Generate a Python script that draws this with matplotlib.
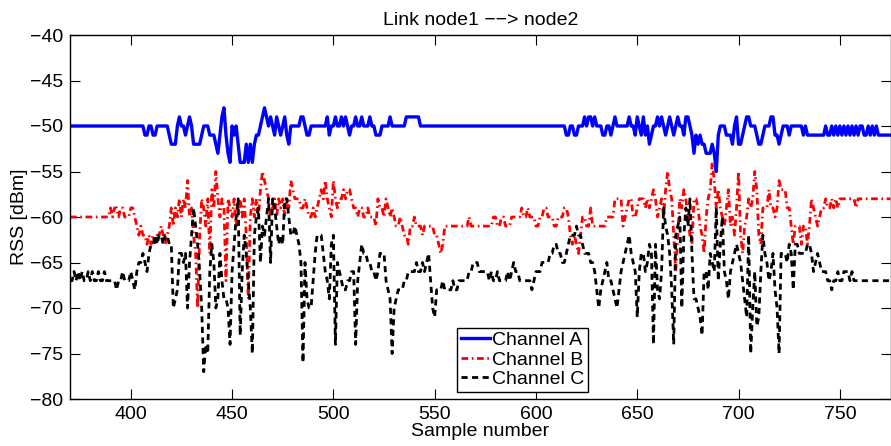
import numpy as np
import matplotlib
matplotlib.use('Agg')
import matplotlib.pyplot as plt

plt.rcParams['font.family'] = ['Liberation Sans', 'DejaVu Sans']
plt.rcParams['font.size'] = 14

# %% data, one value per sample (370..775)

samples = np.arange(370, 776)

chan_a = [
    -50, -50, -50, -50, -50, -50, -50, -50, -50, -50,   # 370
    -50, -50, -50, -50, -50, -50, -50, -50, -50, -50,   # 380
    -50, -50, -50, -50, -50, -50, -50, -50, -50, -50,   # 390
    -50, -50, -50, -50, -50, -50, -50, -51, -51, -50,   # 400
    -50, -51, -51, -50, -50, -50, -50, -50, -50, -51,   # 410
    -52, -52, -52, -50, -49, -50, -50, -51, -50, -49,   # 420
    -50, -52, -52, -52, -52, -51, -50, -50, -50, -51,   # 430
    -51, -51, -52, -53, -51, -49, -48, -51, -53, -54,   # 440
    -50, -51, -50, -52, -54, -54, -54, -52, -54, -52,   # 450
    -54, -52, -51, -51, -50, -49, -48, -49, -50, -49,   # 460
    -50, -51, -49, -50, -51, -50, -49, -51, -52, -50,   # 470
    -50, -50, -50, -50, -49, -49, -50, -51, -51, -50,   # 480
    -50, -50, -50, -50, -50, -50, -50, -49, -51, -50,   # 490
    -50, -49, -50, -50, -49, -50, -49, -50, -51, -50,   # 500
    -50, -49, -50, -50, -49, -50, -50, -50, -49, -50,   # 510
    -50, -51, -51, -51, -50, -50, -50, -50, -49, -50,   # 520
    -50, -50, -50, -50, -50, -50, -49, -49, -49, -49,   # 530
    -49, -49, -49, -50, -50, -50, -50, -50, -50, -50,   # 540
    -50, -50, -50, -50, -50, -50, -50, -50, -50, -50,   # 550
    -50, -50, -50, -50, -50, -50, -50, -50, -50, -50,   # 560
    -50, -50, -50, -50, -50, -50, -50, -50, -50, -50,   # 570
    -50, -50, -50, -50, -50, -50, -50, -50, -50, -50,   # 580
    -50, -50, -50, -50, -50, -50, -50, -50, -50, -50,   # 590
    -50, -50, -50, -50, -50, -50, -50, -50, -50, -50,   # 600
    -50, -50, -50, -50, -50, -51, -51, -50, -50, -51,   # 610
    -51, -50, -50, -50, -49, -50, -49, -49, -50, -49,   # 620
    -50, -50, -50, -51, -51, -50, -50, -51, -50, -49,   # 630
    -50, -50, -50, -50, -50, -50, -49, -50, -50, -51,   # 640
    -49, -50, -51, -49, -51, -50, -52, -51, -50, -50,   # 650
    -49, -50, -49, -50, -51, -50, -49, -50, -51, -50,   # 660
    -49, -50, -50, -51, -49, -49, -50, -51, -53, -51,   # 670
    -52, -51, -52, -52, -53, -53, -53, -52, -53, -55,   # 680
    -51, -50, -50, -50, -51, -51, -51, -52, -50, -49,   # 690
    -52, -52, -51, -50, -49, -49, -50, -50, -50, -51,   # 700
    -52, -52, -51, -50, -50, -50, -49, -49, -51, -51,   # 710
    -52, -51, -50, -50, -50, -51, -50, -50, -50, -50,   # 720
    -50, -50, -51, -50, -51, -51, -51, -51, -51, -51,   # 730
    -51, -51, -51, -50, -51, -51, -50, -51, -50, -51,   # 740
    -50, -51, -50, -51, -50, -51, -50, -51, -50, -51,   # 750
    -50, -50, -51, -51, -50, -51, -50, -51, -50, -51,   # 760
    -51, -51, -51, -51, -51, -51,                       # 770
]

chan_b = [
    -60, -60, -60, -60, -60, -60, -60, -60, -60, -60,   # 370
    -60, -60, -60, -60, -60, -60, -60, -60, -60, -60,   # 380
    -59, -60, -59, -59, -60, -59, -59, -60, -60, -60,   # 390
    -59, -59, -60, -61, -62, -61, -62, -62, -63, -62,   # 400
    -63, -62, -63, -62, -62, -61, -62, -63, -62, -61,   # 410
    -59, -61, -59, -60, -58, -60, -58, -59, -56, -60,   # 420
    -59, -62, -64, -70, -62, -58, -59, -61, -58, -64,   # 430
    -57, -59, -55, -58, -60, -58, -59, -67, -58, -59,   # 440
    -60, -58, -61, -59, -58, -60, -58, -62, -69, -60,   # 450
    -58, -60, -58, -60, -57, -55, -56, -57, -58, -60,   # 460
    -59, -58, -60, -58, -59, -58, -60, -58, -59, -56,   # 470
    -57, -58, -58, -58, -59, -59, -58, -59, -60, -60,   # 480
    -59, -60, -59, -58, -57, -58, -56, -58, -59, -60,   # 490
    -56, -58, -59, -58, -58, -57, -58, -57, -57, -58,   # 500
    -59, -59, -60, -59, -59, -60, -60, -59, -60, -60,   # 510
    -60, -61, -58, -59, -59, -60, -58, -59, -60, -59,   # 520
    -60, -61, -61, -60, -61, -62, -62, -63, -61, -61,   # 530
    -60, -61, -61, -61, -62, -61, -61, -61, -61, -61,   # 540
    -62, -62, -63, -64, -63, -61, -61, -61, -61, -61,   # 550
    -61, -61, -61, -61, -61, -61, -61, -60, -61, -61,   # 560
    -61, -61, -61, -61, -61, -61, -61, -61, -61, -60,   # 570
    -60, -61, -61, -60, -60, -61, -61, -61, -60, -60,   # 580
    -60, -60, -60, -59, -60, -60, -59, -60, -60, -60,   # 590
    -61, -61, -60, -60, -59, -59, -60, -60, -60, -61,   # 600
    -61, -60, -60, -60, -59, -59, -60, -62, -63, -62,   # 610
    -63, -64, -62, -60, -60, -61, -61, -59, -61, -61,   # 620
    -61, -61, -61, -61, -61, -60, -60, -60, -60, -58,   # 630
    -58, -58, -58, -61, -60, -59, -58, -58, -60, -60,   # 640
    -59, -58, -58, -58, -59, -58, -59, -58, -57, -58,   # 650
    -60, -59, -58, -60, -57, -55, -57, -58, -62, -66,   # 660
    -62, -58, -59, -57, -58, -60, -62, -63, -58, -58,   # 670
    -59, -61, -62, -64, -60, -58, -57, -54, -56, -59,   # 680
    -57, -59, -60, -61, -59, -57, -61, -60, -62, -59,   # 690
    -55, -62, -64, -61, -60, -58, -59, -58, -55, -57,   # 700
    -62, -63, -59, -59, -59, -57, -59, -59, -60, -59,   # 710
    -56, -57, -57, -57, -59, -59, -61, -63, -61, -61,   # 720
    -61, -63, -61, -61, -63, -61, -58, -59, -60, -61,   # 730
    -60, -59, -59, -58, -59, -59, -58, -59, -58, -59,   # 740
    -58, -58, -58, -58, -58, -58, -58, -58, -59, -58,   # 750
    -58, -58, -58, -58, -58, -58, -58, -58, -58, -58,   # 760
    -58, -58, -58, -58, -58, -58,                       # 770
]

chan_c = [
    -67, -67, -66, -67, -66, -67, -66, -67, -67, -66,   # 370
    -67, -66, -67, -67, -66, -67, -67, -66, -67, -67,   # 380
    -67, -67, -67, -68, -67, -67, -66, -67, -67, -67,   # 390
    -66, -67, -68, -66, -65, -65, -64, -65, -66, -64,   # 400
    -63, -63, -62, -63, -62, -62, -63, -62, -62, -63,   # 410
    -63, -70, -69, -68, -64, -64, -65, -64, -70, -65,   # 420
    -62, -59, -61, -63, -66, -70, -77, -74, -75, -66,   # 430
    -63, -65, -70, -69, -64, -67, -69, -69, -70, -74,   # 440
    -66, -63, -60, -58, -73, -66, -62, -64, -67, -70,   # 450
    -75, -62, -60, -59, -65, -61, -62, -60, -58, -65,   # 460
    -58, -59, -61, -63, -62, -63, -58, -58, -60, -62,   # 470
    -62, -61, -62, -63, -65, -76, -65, -69, -70, -70,   # 480
    -67, -64, -62, -62, -62, -64, -66, -67, -69, -63,   # 490
    -62, -74, -65, -66, -67, -68, -68, -67, -67, -66,   # 500
    -66, -74, -67, -65, -63, -64, -64, -65, -65, -66,   # 510
    -66, -67, -66, -64, -64, -64, -67, -68, -69, -75,   # 520
    -70, -69, -68, -68, -68, -67, -67, -66, -66, -66,   # 530
    -66, -65, -66, -66, -65, -66, -65, -64, -67, -70,   # 540
    -71, -68, -68, -68, -67, -68, -68, -68, -68, -67,   # 550
    -68, -68, -67, -67, -67, -67, -67, -66, -66, -65,   # 560
    -65, -65, -66, -66, -66, -66, -66, -67, -66, -67,   # 570
    -67, -66, -67, -67, -67, -67, -66, -67, -66, -65,   # 580
    -66, -66, -67, -67, -67, -67, -67, -67, -68, -67,   # 590
    -66, -66, -66, -65, -65, -65, -65, -64, -64, -63,   # 600
    -63, -64, -64, -65, -65, -64, -63, -62, -62, -62,   # 610
    -61, -62, -62, -63, -64, -64, -64, -65, -65, -66,   # 620
    -68, -70, -68, -67, -66, -65, -67, -67, -68, -69,   # 630
    -70, -68, -66, -65, -64, -63, -62, -64, -65, -66,   # 640
    -71, -66, -64, -64, -66, -65, -63, -64, -74, -63,   # 650
    -68, -69, -66, -59, -61, -62, -64, -68, -74, -62,   # 660
    -61, -60, -70, -62, -59, -61, -58, -64, -69, -69,   # 670
    -70, -71, -73, -66, -66, -68, -64, -65, -66, -59,   # 680
    -67, -63, -60, -66, -67, -69, -66, -65, -64, -63,   # 690
    -64, -65, -67, -69, -71, -62, -75, -70, -66, -72,   # 700
    -71, -66, -62, -64, -65, -67, -66, -64, -68, -70,   # 710
    -75, -64, -64, -64, -65, -63, -64, -68, -63, -63,   # 720
    -64, -64, -64, -64, -63, -63, -64, -66, -65, -64,   # 730
    -65, -66, -66, -66, -67, -67, -68, -67, -67, -66,   # 740
    -67, -67, -66, -66, -66, -67, -66, -67, -67, -67,   # 750
    -67, -67, -67, -67, -67, -67, -67, -67, -67, -67,   # 760
    -67, -67, -67, -67, -67, -67,                       # 770
]

labels = ['Channel A', 'Channel B', 'Channel C']

# %% plot

fig = plt.figure(figsize=(8.91, 4.46), dpi=100)
ax = fig.add_axes([70/891, 47/446, 820.5/891, 364/446])

ax.plot(samples, chan_a, '-', color='#0000ff', lw=2.4, label=labels[0])
ax.plot(samples, chan_b, color='#ff0000', lw=2.0, dashes=[2.4, 1.3, 0.6, 1.3], label=labels[1])
ax.plot(samples, chan_c, color='black', lw=2.0, dashes=[2.2, 1.6], label=labels[2])

ax.set_xlim(370, 775)
ax.set_ylim(-80, -40)
ax.set_xticks(np.arange(400, 751, 50))
ax.set_yticks(np.arange(-80, -39, 5))
ax.tick_params(direction='in', length=7, width=0.8, top=True, right=True,
               labelsize=14, pad=5)
for sp in ax.spines.values():
    sp.set_linewidth(1.0)

ax.set_title('Link node1 \u2212\u2212> node2', fontsize=14, pad=7)
ax.set_xlabel('Sample number', fontsize=14, labelpad=0)
ax.set_ylabel('RSS [dBm]', fontsize=14, labelpad=1)

leg = ax.legend(loc='lower left', bbox_to_anchor=(0.472, 0.019), fontsize=14,
                fancybox=False, edgecolor='black', framealpha=1,
                handlelength=1.5, handletextpad=0.1, borderpad=0.2,
                labelspacing=0.1, borderaxespad=0)
leg.get_frame().set_linewidth(1.0)

fig.savefig('out.png', dpi=100)
